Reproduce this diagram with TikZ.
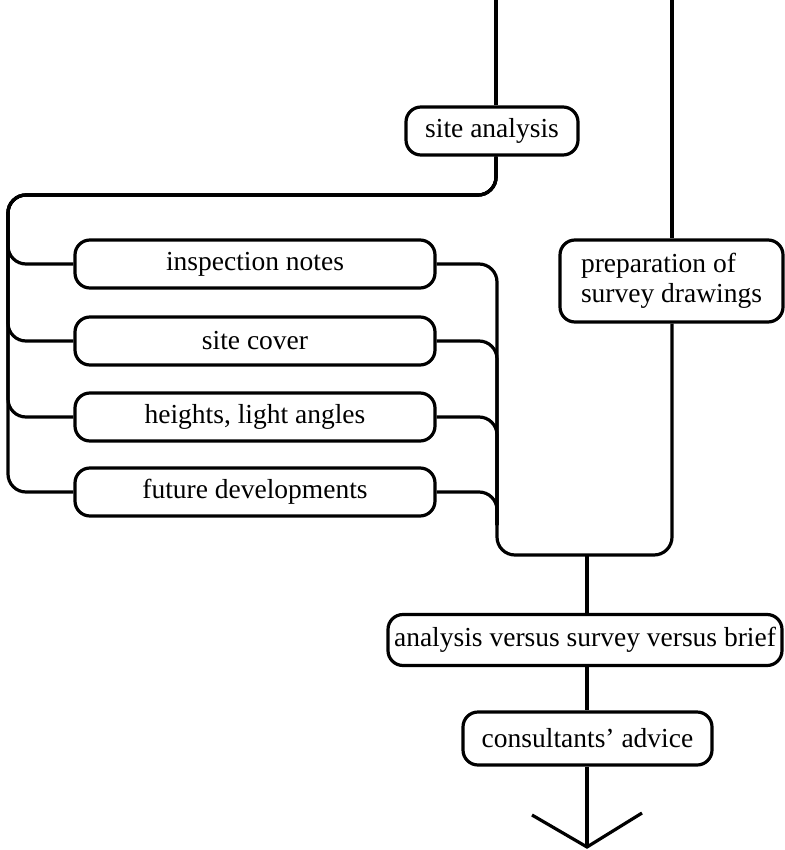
\documentclass[tikz,border=0pt]{standalone}
\usepackage{fontspec}
\setmainfont{Liberation Serif}
\begin{document}
\begin{tikzpicture}[x=1pt,y=-1pt,
  every path/.style={line width=3.2pt},
  stagebox/.style={draw, line width=3.2pt, rectangle, rounded corners=15pt,
    inner sep=0pt, font=\fontsize{27.5}{30}\selectfont},
  link/.style={draw, line width=3.2pt, rounded corners=18pt}]
\useasboundingbox (0,0) rectangle (784,850);

% stages
\node[stagebox, minimum width=172pt, minimum height=48pt] (sa) at (492,131) {site analysis};
\node[stagebox, minimum width=360pt, minimum height=48pt] (in) at (255,264) {inspection notes};
\node[stagebox, minimum width=360pt, minimum height=48pt] (sc) at (255,341) {site cover};
\node[stagebox, minimum width=360pt, minimum height=48pt] (hl) at (255,417) {heights, light angles};
\node[stagebox, minimum width=360pt, minimum height=48pt] (fd) at (255,492) {future developments};
\node[stagebox, minimum width=223pt, minimum height=82pt, align=left] (pp) at (671.5,281)
  {preparation of\\survey drawings};
\node[stagebox, minimum width=394pt, minimum height=51pt] (av) at (585,640) {analysis versus survey versus brief};
\node[stagebox, minimum width=249pt, minimum height=53pt] (ca) at (587.5,738.5) {consultants' advice};

% free ends and junction points
\coordinate (t1) at (496,0);
\coordinate (t2) at (672,0);
\coordinate (lb) at (8,195);
\coordinate (rb) at (497,555);
\coordinate (rj) at (497,525);
\coordinate (mj) at (587,555);
\coordinate (ap) at (587,847);
\coordinate (al) at (532,815);
\coordinate (ar) at (642,813);

% incoming lines
\draw (t1) -- (t1 |- sa.north);
\draw (t2) -- (t2 |- pp.north);

% site analysis fans out to the four inspection items
\foreach \b in {in,sc,hl,fd}
  \draw[link] (t1 |- sa.south) |- (lb) |- (\b.west);

% items gather into one line, joined by the survey line
\foreach \b in {sc,hl,fd}
  \draw[link] (\b.east) -| (rj);
\draw[link] (in.east) -| (rb) -| (t2 |- pp.south);

% towards the brief comparison and onwards
\draw (mj) -- (mj |- av.north);
\draw (mj |- av.south) -- (mj |- ca.north);
\draw (mj |- ca.south) -- (ap);
\draw (al) -- (ap) -- (ar);
\end{tikzpicture}
\end{document}
